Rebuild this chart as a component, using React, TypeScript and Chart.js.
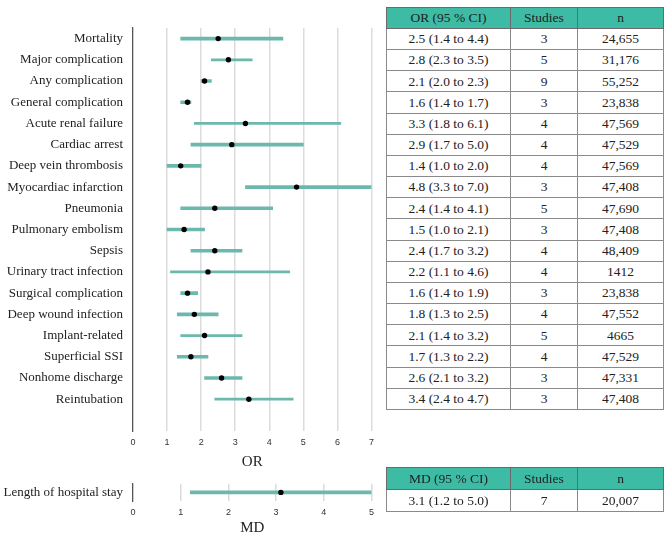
import React, { useEffect, useRef } from "react";
import { Chart, registerables } from "chart.js";

Chart.register(...registerables);

// ---- Data ----
const categories = [
  "Mortality",
  "Major complication",
  "Any complication",
  "General complication",
  "Acute renal failure",
  "Cardiac arrest",
  "Deep vein thrombosis",
  "Myocardiac infarction",
  "Pneumonia",
  "Pulmonary embolism",
  "Sepsis",
  "Urinary tract infection",
  "Surgical complication",
  "Deep wound infection",
  "Implant-related",
  "Superficial SSI",
  "Nonhome discharge",
  "Reintubation",
];
const orEstimate = [2.5, 2.8, 2.1, 1.6, 3.3, 2.9, 1.4, 4.8, 2.4, 1.5, 2.4, 2.2, 1.6, 1.8, 2.1, 1.7, 2.6, 3.4];
const orLower = [1.4, 2.3, 2.0, 1.4, 1.8, 1.7, 1.0, 3.3, 1.4, 1.0, 1.7, 1.1, 1.4, 1.3, 1.4, 1.3, 2.1, 2.4];
const orUpper = [4.4, 3.5, 2.3, 1.7, 6.1, 5.0, 2.0, 7.0, 4.1, 2.1, 3.2, 4.6, 1.9, 2.5, 3.2, 2.2, 3.2, 4.7];
const orStudies = [3, 5, 9, 3, 4, 4, 4, 3, 5, 3, 4, 4, 3, 4, 5, 4, 3, 3];
const orN = ["24,655", "31,176", "55,252", "23,838", "47,569", "47,529", "47,569", "47,408", "47,690", "47,408", "48,409", "1412", "23,838", "47,552", "4665", "47,529", "47,331", "47,408"];
const orTicks = [0, 1, 2, 3, 4, 5, 6, 7];

const mdCategories = ["Length of hospital stay"];
const mdEstimate = [3.1];
const mdLower = [1.2];
const mdUpper = [5.0];
const mdStudies = [7];
const mdN = ["20,007"];
const mdTicks = [0, 1, 2, 3, 4, 5];

// rows drawn with a thinner CI line (style)
const thinRows = new Set(["Major complication", "Acute renal failure", "Urinary tract infection", "Implant-related", "Reintubation"]);

// ---- Styles ----
const LINE = "#6bb8ac";
const HEAD = "#3dbba4";
const SERIF = "'Liberation Serif', 'Times New Roman', serif";
const SANS = "'Liberation Sans', Arial, sans-serif";
const fmt = (v: number) => v.toFixed(1);

function ForestChart(props: {
  cats: string[];
  est: number[];
  lo: number[];
  hi: number[];
  ticks: number[];
  title: string;
  extraSlot: boolean;
  width: number;
  height: number;
  padTop: number;
  xHeight: number;
  titleLineHeight: number;
  titlePadBottom: number;
}) {
  const ref = useRef<HTMLCanvasElement | null>(null);
  useEffect(() => {
    if (!ref.current) return;
    const { cats, est, lo, hi, ticks } = props;
    const labels = props.extraSlot ? [...cats, ""] : [...cats];
    const chart = new Chart(ref.current, {
      type: "bar",
      data: {
        labels,
        datasets: [
          {
            type: "scatter",
            data: cats.map((c, i) => ({ x: est[i], y: c })) as any,
            backgroundColor: "#000",
            borderColor: "#000",
            borderWidth: 0,
            pointRadius: 2.7,
            order: 0,
          } as any,
          {
            type: "bar",
            data: cats.map((c, i) => (thinRows.has(c) ? null : [lo[i], hi[i]])) as any,
            backgroundColor: LINE,
            borderWidth: 0,
            barThickness: 3,
            grouped: false,
            order: 1,
          } as any,
          {
            type: "bar",
            data: cats.map((c, i) => (thinRows.has(c) ? [lo[i], hi[i]] : null)) as any,
            backgroundColor: LINE,
            borderWidth: 0,
            barThickness: 2,
            grouped: false,
            order: 2,
          } as any,
        ],
      },
      options: {
        indexAxis: "y",
        responsive: false,
        animation: false,
        layout: { padding: { top: props.padTop, right: 8, left: 0, bottom: 0 } },
        plugins: { legend: { display: false }, tooltip: { enabled: false } },
        scales: {
          x: {
            type: "linear",
            min: ticks[0],
            max: ticks[ticks.length - 1],
            afterBuildTicks: (s: any) => {
              s.ticks = ticks.map((v) => ({ value: v }));
            },
            afterFit: (s: any) => {
              s.height = props.xHeight;
            },
            ticks: { font: { family: SANS, size: 9 }, color: "#333", padding: 6 },
            grid: {
              drawTicks: false,
              lineWidth: 1.5,
              color: (ctx: any) => (ctx.tick && ctx.tick.value === 0 ? "rgba(0,0,0,0)" : "#dcdcdc"),
            },
            border: { display: false },
            title: {
              display: true,
              text: props.title,
              font: { family: SERIF, size: 15, lineHeight: props.titleLineHeight },
              color: "#222",
              padding: { top: 0, bottom: props.titlePadBottom },
            },
          },
          y: {
            type: "category",
            offset: true,
            afterFit: (s: any) => {
              s.width = 133;
            },
            ticks: { font: { family: SERIF, size: 13 }, color: "#222", padding: 10, autoSkip: false },
            grid: { display: false, drawTicks: false },
            border: { display: true, color: "#555", width: 1.3 },
          },
        },
      } as any,
    });
    return () => chart.destroy();
  }, []);
  return <canvas ref={ref} width={props.width} height={props.height} style={{ display: "block" }} />;
}

const cell: React.CSSProperties = {
  border: "1px solid #8a8a8a",
  textAlign: "center",
  padding: 0,
  fontFamily: SERIF,
  fontSize: 13.5,
  color: "#222",
  lineHeight: "1",
};

function StatTable(props: { head: string; est: number[]; lo: number[]; hi: number[]; studies: number[]; n: string[]; rowH: number; headH: number }) {
  return (
    <table style={{ borderCollapse: "collapse", tableLayout: "fixed", width: 277 }}>
      <colgroup>
        <col style={{ width: 124 }} />
        <col style={{ width: 67 }} />
        <col style={{ width: 86 }} />
      </colgroup>
      <thead>
        <tr style={{ height: props.headH }}>
          <th style={{ ...cell, background: HEAD, fontWeight: "normal", borderColor: "#6a6a6a" }}>{props.head}</th>
          <th style={{ ...cell, background: HEAD, fontWeight: "normal", borderColor: "#6a6a6a" }}>Studies</th>
          <th style={{ ...cell, background: HEAD, fontWeight: "normal", borderColor: "#6a6a6a" }}>n</th>
        </tr>
      </thead>
      <tbody>
        {props.est.map((e, i) => (
          <tr key={i} style={{ height: props.rowH }}>
            <td style={cell}>{`${fmt(e)} (${fmt(props.lo[i])} to ${fmt(props.hi[i])})`}</td>
            <td style={cell}>{props.studies[i]}</td>
            <td style={cell}>{props.n[i]}</td>
          </tr>
        ))}
      </tbody>
    </table>
  );
}

export default function App() {
  return (
    <div style={{ position: "absolute", left: 0, top: 0, width: 669, height: 536, overflow: "hidden", background: "#fff" }}>
      <div style={{ position: "absolute", left: 0, top: 0 }}>
        <ForestChart
          cats={categories}
          est={orEstimate}
          lo={orLower}
          hi={orUpper}
          ticks={orTicks}
          title="OR"
          extraSlot={true}
          width={380}
          height={475}
          padTop={28}
          xHeight={44}
          titleLineHeight={1.2}
          titlePadBottom={4}
        />
      </div>
      <div style={{ position: "absolute", left: 0, top: 466 }}>
        <ForestChart
          cats={mdCategories}
          est={mdEstimate}
          lo={mdLower}
          hi={mdUpper}
          ticks={mdTicks}
          title="MD"
          extraSlot={false}
          width={380}
          height={70}
          padTop={10}
          xHeight={35}
          titleLineHeight={1}
          titlePadBottom={0.5}
        />
      </div>
      <div style={{ position: "absolute", left: 386, top: 7 }}>
        <StatTable head="OR (95 % CI)" est={orEstimate} lo={orLower} hi={orUpper} studies={orStudies} n={orN} rowH={21.17} headH={21} />
      </div>
      <div style={{ position: "absolute", left: 386, top: 467 }}>
        <StatTable head="MD (95 % CI)" est={mdEstimate} lo={mdLower} hi={mdUpper} studies={mdStudies} n={mdN} rowH={22} headH={22} />
      </div>
    </div>
  );
}
